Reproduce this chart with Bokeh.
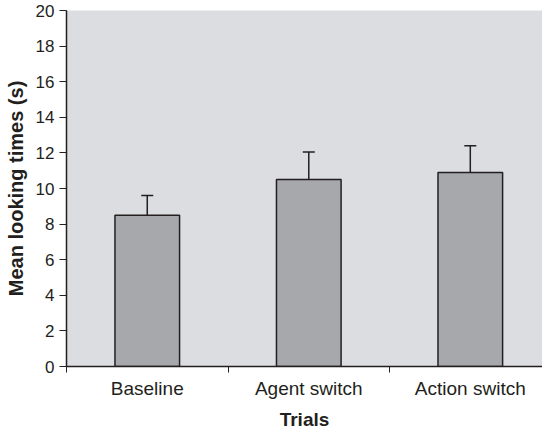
from bokeh.plotting import figure
from bokeh.models import (ColumnDataSource, FixedTicker, Range1d, Whisker, TeeHead)
from bokeh.embed import file_html
from bokeh.resources import INLINE

categories = ["Baseline", "Agent switch", "Action switch"]
means = [8.5, 10.5, 10.9]
upper_err = [9.6, 12.05, 12.4]
y_ticks = [0, 2, 4, 6, 8, 10, 12, 14, 16, 18, 20]

xs = list(range(len(categories)))
src = ColumnDataSource(dict(x=xs, top=means, upper=upper_err))

p = figure(width=542, height=432, output_backend="svg", toolbar_location=None,
           x_range=Range1d(-0.5, 2.447), y_range=Range1d(0, 20),
           min_border_left=66, min_border_top=10, min_border_right=0, min_border_bottom=66)
p.outline_line_color = None
p.background_fill_color = "#dcdde0"
p.border_fill_color = "white"
p.grid.visible = False

p.vbar(x="x", top="top", width=0.4, bottom=0, source=src,
       fill_color="#a7a8ac", line_color="#231f20", line_width=1.5)

w = Whisker(base="x", upper="upper", lower="top", source=src,
            line_color="#231f20", line_width=1.5,
            upper_head=TeeHead(size=12, line_color="#231f20", line_width=1.5),
            lower_head=None)
p.add_layout(w)

font = "Liberation Sans"
xa = p.xaxis[0]
xa.ticker = FixedTicker(ticks=xs, minor_ticks=[-0.5, 0.5, 1.5])
xa.major_label_overrides = {i: c for i, c in enumerate(categories)}
xa.major_tick_out = 0
xa.major_tick_in = 0
xa.minor_tick_out = 6
xa.minor_tick_in = 0
xa.minor_tick_line_color = "#231f20"
xa.axis_line_color = "#231f20"
xa.axis_line_width = 1.5
xa.major_label_text_font = font
xa.major_label_text_font_size = "19px"
xa.major_label_text_color = "#231f20"
xa.major_label_standoff = 5
xa.axis_label = "Trials"
xa.axis_label_text_font = font
xa.axis_label_text_font_style = "bold"
xa.axis_label_text_font_size = "19px"
xa.axis_label_text_color = "#231f20"
xa.axis_label_standoff = 7

ya = p.yaxis[0]
ya.ticker = FixedTicker(ticks=y_ticks, minor_ticks=[])
ya.major_tick_out = 7
ya.major_tick_in = 0
ya.major_tick_line_color = "#231f20"
ya.axis_line_color = "#231f20"
ya.axis_line_width = 1.5
ya.major_label_text_font = font
ya.major_label_text_font_size = "17px"
ya.major_label_text_color = "#231f20"
ya.major_label_standoff = 5
ya.axis_label = "Mean looking times (s)"
ya.axis_label_text_font = font
ya.axis_label_text_font_style = "bold"
ya.axis_label_text_font_size = "20px"
ya.axis_label_text_color = "#231f20"
ya.axis_label_standoff = 6

open("out.html", "w").write(file_html(p, INLINE))
